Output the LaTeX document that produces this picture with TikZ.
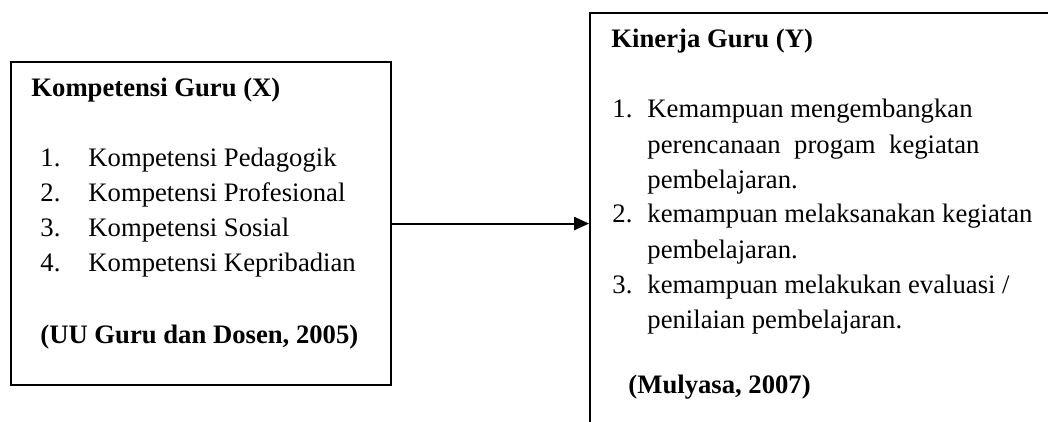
\documentclass[tikz,border=0pt]{standalone}
\usepackage{fontspec}
\setmainfont{Liberation Serif}
\usetikzlibrary{arrows.meta}

\begin{document}
\begin{tikzpicture}[x=0.45pt, y=-0.45pt,
    kotak/.style={draw, line width=0.9pt, rectangle, inner sep=0pt, anchor=north west},
    teks/.style={anchor=base west, inner sep=0pt, font=\fontsize{12}{14}\selectfont},
    judul/.style={teks, font=\fontsize{12}{14}\selectfont\bfseries}]
    \clip (0,0) rectangle (1048,421);
    % kotak kiri dan kanan
    \node[kotak, minimum width=171.2pt, minimum height=145.4pt] (kompetensi) at (9.5,61) {};
    \node[kotak, minimum width=216.5pt, minimum height=192.6pt] (kinerja) at (589,12) {};
    % isi kotak kiri
    \node[judul] (judulx) at (31,96) {Kompetensi Guru (X)};
    \node[teks] (nx1) at (40,166) {1.};
    \node[teks] (x1) at (88,166) {Kompetensi Pedagogik};
    \node[teks] (nx2) at (40,201) {2.};
    \node[teks] (x2) at (88,201) {Kompetensi Profesional};
    \node[teks] (nx3) at (40,236) {3.};
    \node[teks] (x3) at (88,236) {Kompetensi Sosial};
    \node[teks] (nx4) at (40,271) {4.};
    \node[teks] (x4) at (88,271) {Kompetensi Kepribadian};
    \node[judul] (sumberx) at (40,343) {(UU Guru dan Dosen, 2005)};
    % isi kotak kanan
    \node[judul] (juduly) at (611,48) {Kinerja Guru (Y)};
    \node[teks] (ny1) at (612,117) {1.};
    \node[teks] (y1a) at (647,117) {Kemampuan mengembangkan};
    \node[teks] (y1b) at (647,153) {\makebox[149.4pt][s]{perencanaan progam kegiatan}};
    \node[teks] (y1c) at (647,188) {pembelajaran.};
    \node[teks] (ny2) at (612,222) {2.};
    \node[teks] (y2a) at (647,222) {kemampuan melaksanakan kegiatan};
    \node[teks] (y2b) at (647,258) {pembelajaran.};
    \node[teks] (ny3) at (612,293) {3.};
    \node[teks] (y3a) at (647,293) {kemampuan melakukan evaluasi /};
    \node[teks] (y3b) at (647,328) {penilaian pembelajaran.};
    \node[judul] (sumbery) at (628,393) {(Mulyasa, 2007)};
    % panah X ke Y
    \draw[line width=0.9pt, -{Triangle[length=6.7pt, width=5.9pt]}] (kompetensi.east) -- (kompetensi.east -| kinerja.west);
\end{tikzpicture}
\end{document}
